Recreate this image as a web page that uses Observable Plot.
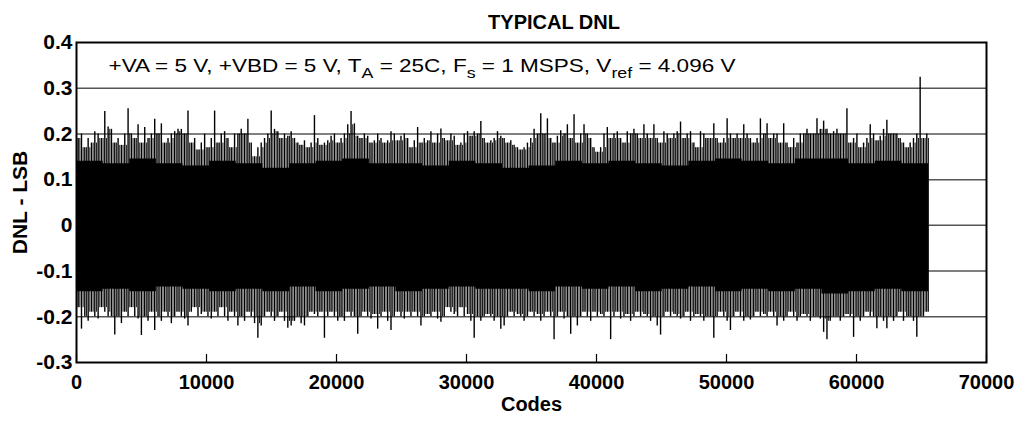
<!DOCTYPE html>
<html>
<head>
<meta charset="utf-8">
<script src="https://cdn.jsdelivr.net/npm/d3@7"></script>
<script src="https://cdn.jsdelivr.net/npm/@observablehq/plot@0.6"></script>
<style>
  html, body { margin: 0; padding: 0; background: #fff; }
  #wrap { position: relative; width: 1024px; height: 423px; overflow: hidden; background: #fff; }
  #title { position: absolute; z-index: 2; left: 554px; top: 12px; transform: translateX(-50%); font: bold 20px "Liberation Sans", Arial, sans-serif; line-height: 20px; white-space: nowrap; color: #000; }
  #chart { position: absolute; z-index: 1; left: 0; top: 26px; }
</style>
</head>
<body>
<div id="wrap">
  <div id="title">TYPICAL DNL</div>
  <div id="chart"></div>
</div>
<script>
// ---- Data ----
// Per-bin DNL envelope: 256 bins of 256 codes each (max and min DNL in LSB)
const dnlMax = [
  0.19,0.20,0.17,0.19,0.18,0.205,0.20,0.19,0.249,0.215,0.21,0.18,0.19,0.175,0.20,0.255,
  0.20,0.19,0.22,0.18,0.214,0.19,0.20,0.232,0.20,0.222,0.18,0.19,0.20,0.205,0.21,0.21,
  0.20,0.25,0.18,0.19,0.165,0.18,0.20,0.17,0.19,0.25,0.18,0.20,0.205,0.19,0.17,0.20,
  0.20,0.21,0.20,0.232,0.18,0.15,0.17,0.18,0.19,0.20,0.25,0.21,0.205,0.19,0.20,0.195,
  0.205,0.19,0.18,0.175,0.185,0.17,0.18,0.24,0.19,0.175,0.18,0.185,0.195,0.20,0.18,0.19,
  0.20,0.22,0.249,0.222,0.195,0.19,0.20,0.195,0.18,0.185,0.20,0.19,0.18,0.185,0.205,0.20,
  0.185,0.195,0.20,0.19,0.17,0.185,0.214,0.18,0.19,0.185,0.205,0.18,0.20,0.211,0.19,0.185,
  0.20,0.195,0.175,0.18,0.20,0.205,0.195,0.205,0.20,0.227,0.19,0.18,0.185,0.19,0.205,0.195,
  0.19,0.18,0.185,0.175,0.17,0.165,0.17,0.18,0.19,0.21,0.20,0.244,0.20,0.233,0.19,0.18,
  0.195,0.207,0.20,0.22,0.19,0.242,0.18,0.20,0.22,0.20,0.19,0.17,0.16,0.17,0.20,0.214,
  0.19,0.20,0.205,0.19,0.18,0.205,0.20,0.21,0.20,0.19,0.22,0.20,0.19,0.22,0.19,0.18,
  0.205,0.20,0.19,0.20,0.205,0.226,0.19,0.20,0.205,0.18,0.17,0.205,0.20,0.19,0.19,0.222,
  0.19,0.18,0.19,0.233,0.20,0.19,0.20,0.19,0.22,0.20,0.19,0.18,0.19,0.233,0.20,0.222,
  0.19,0.20,0.20,0.18,0.222,0.18,0.17,0.19,0.18,0.20,0.20,0.21,0.20,0.20,0.233,0.21,
  0.228,0.21,0.20,0.205,0.21,0.20,0.20,0.255,0.18,0.19,0.20,0.17,0.18,0.19,0.22,0.20,
  0.185,0.195,0.21,0.23,0.20,0.20,0.20,0.19,0.18,0.17,0.18,0.19,0.20,0.324,0.19,0.20
];
const dnlMin = [
  -0.18,-0.227,-0.20,-0.21,-0.19,-0.20,-0.205,-0.18,-0.19,-0.20,-0.20,-0.24,-0.20,-0.215,-0.19,-0.20,
  -0.18,-0.20,-0.205,-0.241,-0.20,-0.21,-0.19,-0.23,-0.20,-0.21,-0.19,-0.20,-0.215,-0.20,-0.19,-0.20,
  -0.205,-0.22,-0.19,-0.18,-0.20,-0.195,-0.19,-0.20,-0.205,-0.19,-0.20,-0.18,-0.20,-0.21,-0.19,-0.20,
  -0.22,-0.20,-0.21,-0.19,-0.20,-0.215,-0.247,-0.22,-0.20,-0.19,-0.20,-0.21,-0.20,-0.19,-0.21,-0.225,
  -0.22,-0.21,-0.20,-0.215,-0.22,-0.20,-0.19,-0.195,-0.20,-0.19,-0.247,-0.20,-0.19,-0.20,-0.21,-0.20,
  -0.21,-0.19,-0.20,-0.20,-0.238,-0.20,-0.19,-0.20,-0.205,-0.195,-0.227,-0.20,-0.19,-0.21,-0.23,-0.20,
  -0.19,-0.20,-0.205,-0.19,-0.20,-0.19,-0.20,-0.22,-0.20,-0.195,-0.20,-0.19,-0.205,-0.212,-0.20,-0.18,
  -0.19,-0.195,-0.20,-0.18,-0.20,-0.195,-0.21,-0.247,-0.20,-0.21,-0.20,-0.195,-0.20,-0.21,-0.20,-0.227,
  -0.22,-0.20,-0.19,-0.20,-0.195,-0.20,-0.21,-0.20,-0.19,-0.20,-0.195,-0.21,-0.20,-0.19,-0.20,-0.25,
  -0.20,-0.19,-0.205,-0.20,-0.238,-0.20,-0.22,-0.20,-0.19,-0.20,-0.21,-0.19,-0.20,-0.195,-0.20,-0.19,
  -0.25,-0.20,-0.19,-0.205,-0.20,-0.195,-0.21,-0.20,-0.19,-0.20,-0.195,-0.20,-0.21,-0.20,-0.22,-0.24,
  -0.20,-0.19,-0.20,-0.195,-0.20,-0.205,-0.20,-0.19,-0.21,-0.20,-0.195,-0.20,-0.21,-0.20,-0.20,-0.247,
  -0.20,-0.19,-0.20,-0.21,-0.23,-0.20,-0.19,-0.20,-0.21,-0.20,-0.207,-0.20,-0.19,-0.20,-0.195,-0.20,
  -0.19,-0.20,-0.22,-0.20,-0.21,-0.20,-0.19,-0.20,-0.21,-0.20,-0.195,-0.20,-0.21,-0.20,-0.20,-0.205,
  -0.234,-0.25,-0.21,-0.20,-0.20,-0.21,-0.20,-0.195,-0.20,-0.245,-0.20,-0.21,-0.20,-0.19,-0.20,-0.20,
  -0.226,-0.20,-0.21,-0.226,-0.20,-0.21,-0.20,-0.19,-0.21,-0.20,-0.20,-0.21,-0.245,-0.20,-0.20,-0.19
];
// Dense (solid) core of the trace: 32 segments of 2048 codes each
const coreHi = [0.14,0.135,0.145,0.135,0.13,0.14,0.135,0.125, 0.135,0.14,0.145,0.135,0.135,0.13,0.14,0.135,
                0.125,0.13,0.14,0.135,0.14,0.135,0.13,0.14, 0.145,0.14,0.135,0.145,0.145,0.135,0.14,0.135];
const coreLo = [-0.145,-0.14,-0.145,-0.135,-0.14,-0.145,-0.14,-0.145, -0.135,-0.145,-0.14,-0.135,-0.145,-0.14,-0.135,-0.14,
                -0.14,-0.145,-0.135,-0.14,-0.135,-0.145,-0.14,-0.135, -0.145,-0.14,-0.145,-0.14,-0.15,-0.145,-0.14,-0.145];
const binSize = 256;
const coreSize = 2048;
const codeCount = 65536;
const xTicks = [0, 10000, 20000, 30000, 40000, 50000, 60000, 70000];
const yTicks = [-0.3, -0.2, -0.1, 0, 0.1, 0.2, 0.3, 0.4];
const gridY = [-0.2, -0.1, 0, 0.1, 0.2, 0.3];
const annotationParts = [
  ["+VA = 5 V, +VBD = 5 V, T", false], ["A", true], [" = 25C, F", false], ["s", true],
  [" = 1 MSPS, V", false], ["ref", true], [" = 4.096 V", false]
];

// ---- Build tables ----
const bins = dnlMax.map((hi, i) => ({code: i * binSize + binSize / 2, mid: i * binSize + binSize, hi, lo: dnlMin[i]}));
const core = coreHi.map((hi, j) => ({x: j * coreSize, hi, lo: coreLo[j]}));
core.push({x: codeCount, hi: coreHi[coreHi.length - 1], lo: coreLo[coreLo.length - 1]});
const fmtY = d => d === 0 ? "0" : d.toFixed(1);

const chart = Plot.plot({
  width: 1024,
  height: 397,
  marginLeft: 76,
  marginRight: 38,
  marginTop: 16,
  marginBottom: 61,
  style: {fontFamily: '"Liberation Sans", Arial, sans-serif', fontWeight: "bold", fontSize: "21px", color: "#000", background: "transparent", overflow: "visible"},
  x: {domain: [0, 70000]},
  y: {domain: [-0.3, 0.4]},
  marks: [
    Plot.ruleY(gridY, {stroke: "#555", strokeWidth: 1.5}),
    Plot.areaY(core, {x: "x", y1: "lo", y2: "hi", curve: "step-after", fill: "#000"}),
    // main spikes (bin envelope)
    Plot.ruleX(bins, {x: "code", y1: "lo", y2: "hi", stroke: "#000", strokeWidth: 1.4}),
    // thinner in-between spikes: the lowest of three neighbouring bin peaks (library window transform)
    Plot.ruleX(bins, Plot.windowY({k: 3, anchor: "middle", reduce: "min"}, {x: "mid", y1: 0, y2: "hi", stroke: "#000", strokeWidth: 0.9})),
    Plot.ruleX(bins, Plot.windowY({k: 3, anchor: "middle", reduce: "max"}, {x: "mid", y1: "lo", y2: 0, stroke: "#000", strokeWidth: 0.9})),
    Plot.tickX(xTicks, {x: d => d, insetTop: 312, stroke: "#000", strokeWidth: 1.2}),
    Plot.frame({stroke: "#000", strokeWidth: 2}),
    Plot.axisX({ticks: xTicks, tickFormat: d => String(d), tickSize: 0, tickPadding: 12, fontSize: 20, fontWeight: "bold",
                label: "Codes", labelAnchor: "center", labelArrow: "none", labelOffset: 48}),
    Plot.axisY({ticks: yTicks, tickFormat: fmtY, tickSize: 0, tickPadding: 4, fontSize: 21, fontWeight: "bold",
                label: "DNL - LSB", labelAnchor: "center", labelArrow: "none", labelOffset: 64}),
    Plot.text([annotationParts.map(p => p[0]).join("")], {frameAnchor: "top-left", dx: 32, dy: 16, textAnchor: "start", fontSize: 19, fontWeight: "normal", fill: "#000"})
  ]
});
document.getElementById("chart").appendChild(chart);

// Rich text for subscripts in the annotation
const ann = [...chart.querySelectorAll("text")].find(t => t.textContent.startsWith("+VA"));
if (ann) {
  ann.textContent = "";
  const NS = "http://www.w3.org/2000/svg";
  let shifted = false;
  for (const [txt, sub] of annotationParts) {
    const ts = document.createElementNS(NS, "tspan");
    ts.textContent = txt;
    if (sub) { ts.setAttribute("font-size", "15"); ts.setAttribute("dy", "6"); shifted = true; }
    else if (shifted) { ts.setAttribute("dy", "-6"); shifted = false; }
    ann.appendChild(ts);
  }
  ann.setAttribute("textLength", "627");
  ann.setAttribute("lengthAdjust", "spacingAndGlyphs");
}
</script>
</body>
</html>
